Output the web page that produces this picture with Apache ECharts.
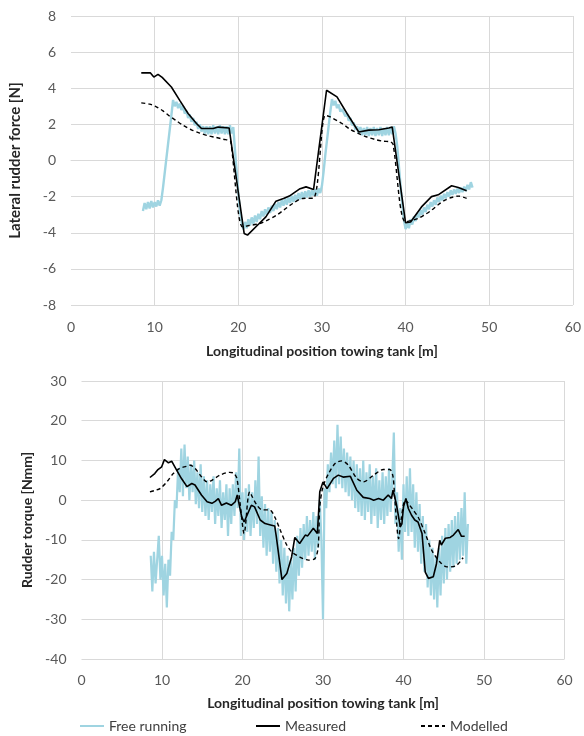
<!DOCTYPE html>
<html>
<head>
<meta charset="utf-8">
<script src="https://cdn.jsdelivr.net/npm/echarts@6/dist/echarts.min.js"></script>
<style>
  html, body { margin: 0; padding: 0; background: #ffffff; }
  #chart { width: 584px; height: 736px; }
</style>
</head>
<body>
<div id="chart"></div>
<script>
// Free running samples: one value every 0.2 m starting at 8.6 m
const sampleStart = 8.6;
const sampleStep = 0.2;

// Lateral rudder force [N], free running
const freeForce = [
  -2.80,-2.35,-2.70,-2.30,-2.65,-2.25,-2.60,-2.30,-2.55,-2.20,
  -2.50,-2.20,-1.5,-0.7,0.1,0.9,1.7,2.5,3.35,3.0,
  3.25,2.9,3.15,2.8,3.0,2.6,2.75,2.35,2.55,2.15,
  2.35,1.95,2.15,1.75,2.0,1.6,1.9,1.5,1.9,1.45,
  1.9,1.45,1.95,1.5,1.9,1.45,1.95,1.5,1.9,1.45,
  1.9,1.45,1.95,1.5,1.85,0.6,-0.6,-1.8,-2.8,-3.4,
  -3.8,-3.4,-3.75,-3.25,-3.6,-3.15,-3.5,-3.05,-3.4,-2.95,
  -3.25,-2.8,-3.1,-2.7,-3.0,-2.6,-2.9,-2.5,-2.8,-2.4,
  -2.7,-2.3,-2.6,-2.2,-2.5,-2.1,-2.45,-2.05,-2.35,-1.95,
  -2.3,-1.9,-2.2,-1.8,-2.15,-1.75,-2.1,-1.7,-2.05,-1.65,
  -2.0,-1.65,-1.95,-1.6,-1.95,-1.55,-1.8,-1.4,-0.6,0.3,
  1.1,1.9,2.7,3.4,3.05,3.3,2.9,3.1,2.7,2.85,
  2.8,2.45,2.6,2.2,2.35,1.95,2.1,1.7,1.9,1.5,
  1.85,1.4,1.8,1.4,1.85,1.35,1.8,1.4,1.85,1.35,
  1.8,1.4,1.85,1.35,1.8,1.4,1.85,1.4,1.85,1.45,
  1.9,1.5,0.8,-0.3,-1.4,-2.4,-3.3,-3.8,-3.45,-3.75,
  -3.25,-3.55,-3.1,-3.35,-2.9,-3.15,-2.75,-3.0,-2.6,-2.85,
  -2.45,-2.7,-2.3,-2.55,-2.2,-2.45,-2.05,-2.3,-1.95,-2.2,
  -1.85,-2.1,-1.75,-2.0,-1.65,-1.9,-1.6,-1.85,-1.55,-1.8,
  -1.5,-1.75,-1.45,-1.7,-1.35,-1.6,-1.2,-1.5
];

// Rudder torque [Nmm], free running
const freeTorque = [
  -14,-23,-13,-21,-15,-9,-20,-14,-24,-16,
  -27,-15,-19,-8,-10,0,-2,8,2,13,
  1,14,3,11,0,9,2,10,-1,7,
  -2,9,-3,6,-4,5,-5,4,-3,6,
  -6,3,-4,5,-7,2,-5,4,-9,3,
  -6,4,-4,7,-2,13,-9,2,-10,3,
  -8,4,-9,2,-7,5,-6,11,-9,1,
  -12,-1,-14,-2,-13,-3,-16,-5,-18,-7,
  -21,-10,-24,-12,-26,-14,-28,-15,-25,-12,
  -23,-9,-19,-7,-17,-6,-15,-4,-14,-5,
  -13,-3,-15,-4,-12,0,-10,-30,3,-2,
  9,2,12,4,15,3,19,4,16,3,
  13,2,12,1,11,0,10,-2,9,-3,
  8,-4,10,-5,7,-3,9,-6,6,-4,
  8,-7,5,-5,7,-6,6,-4,8,-3,
  5,17,-6,2,-13,-2,-15,4,-8,6,
  -9,8,-8,4,-12,2,-13,-1,-16,-4,
  -18,-6,-22,-10,-24,-12,-25,-14,-27,-12,
  -24,-9,-21,-7,-20,-6,-18,-5,-17,-4,
  -16,-3,-15,-2,-14,2,-16,-6
];

// Measured and modelled curves as [position m, value]
const measuredForce = [
  [8.4,4.85],[9.5,4.85],[9.9,4.62],[10.4,4.77],[10.9,4.6],[12.0,4.07],[13.0,3.33],
  [14.0,2.6],[15.0,2.05],[15.6,1.77],[17.0,1.77],[17.6,1.85],[18.9,1.8],
  [20.7,-4.04],[21.1,-4.13],[22.5,-3.49],[23.3,-3.12],[24.5,-2.25],[25.4,-2.1],
  [26.1,-1.97],[27.3,-1.58],[28.1,-1.46],[29.0,-1.6],[30.55,3.89],[31.8,3.52],
  [33.0,2.6],[34.4,1.58],[35.6,1.68],[36.8,1.7],[38.0,1.8],[38.4,1.86],
  [40.0,-3.45],[40.6,-3.4],[41.9,-2.57],[43.1,-2.0],[43.9,-1.9],[45.5,-1.4],
  [46.3,-1.5],[47.3,-1.68]
];

const modelledForce = [
  [8.4,3.19],[9.4,3.12],[10.2,2.97],[11.0,2.75],[11.8,2.45],[12.6,2.2],[13.4,1.95],
  [14.4,1.7],[15.4,1.52],[16.3,1.38],[17.3,1.28],[18.2,1.18],[18.9,1.12],[19.1,1.05],
  [20.5,-3.67],[21.3,-3.6],[22.5,-3.5],[23.5,-3.3],[24.5,-3.05],[25.5,-2.72],
  [26.5,-2.38],[27.7,-2.1],[29.0,-2.08],[30.4,2.5],[31.0,2.41],[32.4,2.05],
  [33.4,1.72],[34.4,1.49],[35.4,1.3],[36.4,1.16],[37.3,1.07],[38.2,1.03],[38.5,0.9],
  [40.0,-3.4],[41.5,-3.21],[42.3,-3.0],[43.1,-2.75],[43.9,-2.45],[44.7,-2.2],
  [45.5,-2.05],[46.3,-1.97],[47.3,-2.1]
];

const measuredTorque = [
  [8.5,5.7],[9.1,6.7],[9.5,7.7],[9.96,8.4],[10.3,10.2],[10.8,9.4],[11.2,9.8],
  [11.8,7.6],[12.4,5.5],[13.1,3.4],[13.7,4.2],[14.1,3.8],[14.9,1.3],[15.6,-0.4],
  [16.2,-0.8],[16.6,-0.3],[17.0,0.4],[17.4,-1.3],[18.0,-0.7],[18.6,-1.3],
  [19.1,-0.4],[19.35,1.3],[19.9,-4.2],[20.2,-5.5],[21.1,-1.3],[21.5,-1.7],
  [22.2,-5.0],[22.8,-5.9],[23.6,-6.3],[24.0,-6.5],[24.2,-9.2],[24.9,-20.0],
  [25.5,-18.5],[26.1,-14.3],[26.5,-9.4],[27.1,-10.9],[27.8,-8.8],[28.1,-9.0],
  [28.8,-7.1],[29.3,-8.4],[29.6,2.1],[30.0,4.6],[30.5,2.9],[31.3,5.5],[31.9,6.3],
  [32.5,5.8],[33.4,6.0],[34.2,2.5],[35.0,0.7],[35.8,0.4],[36.3,0.0],[36.9,0.4],
  [37.5,0.0],[38.1,1.3],[38.5,0.4],[38.7,2.5],[39.1,-0.8],[39.6,-6.7],[39.8,-6.0],
  [40.0,-1.7],[40.3,0.4],[40.6,-2.1],[41.0,-3.8],[41.4,-5.0],[41.8,-5.5],
  [42.3,-8.4],[42.7,-18.1],[43.1,-19.7],[43.7,-19.3],[44.1,-16.0],[44.5,-10.1],
  [44.7,-11.3],[45.2,-9.6],[45.8,-9.4],[46.2,-8.8],[46.8,-7.4],[47.2,-9.1],[47.6,-9.1]
];

const modelledTorque = [
  [8.5,2.1],[9.2,2.5],[9.75,2.9],[10.6,4.6],[11.4,6.7],[12.2,8.0],[13.0,8.5],
  [13.5,8.8],[14.1,8.0],[14.9,5.9],[15.6,4.6],[16.2,5.0],[17.2,6.3],[18.4,7.0],
  [18.9,6.8],[19.3,5.5],[19.7,-0.8],[20.2,-8.4],[20.7,0.8],[20.9,2.1],[21.1,1.3],
  [21.8,-1.3],[22.4,-2.4],[23.4,-2.5],[24.0,-4.2],[24.7,-7.6],[25.5,-11.3],
  [26.1,-13.0],[27.1,-14.3],[28.2,-15.1],[29.0,-14.7],[29.4,-11.8],[29.6,-1.7],
  [30.0,3.4],[30.7,6.7],[31.5,9.2],[32.3,9.9],[33.1,8.9],[34.2,5.5],[35.0,4.6],
  [36.3,6.3],[37.5,7.7],[38.3,7.7],[38.7,5.9],[38.9,0.8],[39.4,-9.7],[39.7,-5.0],
  [40.2,0.0],[40.6,-0.8],[41.2,-2.5],[41.8,-4.2],[42.7,-8.4],[43.5,-12.6],
  [44.5,-15.5],[45.4,-16.8],[45.8,-16.8],[46.6,-16.4],[47.4,-14.5]
];

// Axis ranges
const xRange = { min: 0, max: 60, interval: 10 };
const forceRange = { min: -8, max: 8, interval: 2 };
const torqueRange = { min: -40, max: 30, interval: 10 };

const xTitle = 'Longitudinal position towing tank [m]';
const forceTitle = 'Lateral rudder force [N]';
const torqueTitle = 'Rudder torque [Nmm]';

function sampled(vals) {
  return vals.map((v, i) => [+(sampleStart + i * sampleStep).toFixed(2), v]);
}

const FONT = 'Lato, "Open Sans", sans-serif';
const GRID_COLOR = '#d9d9d9';
const FREE_COLOR = '#9fd4e1';

function xAxisFor(gridIndex, labelMargin, nameGap) {
  return {
    type: 'value', gridIndex,
    min: xRange.min, max: xRange.max, interval: xRange.interval,
    name: xTitle, nameLocation: 'middle', nameGap,
    nameTextStyle: { fontFamily: FONT, fontSize: 14, fontWeight: 'bold', color: '#262626' },
    axisLine: { show: true, lineStyle: { color: GRID_COLOR } },
    axisTick: { show: false },
    axisLabel: { fontFamily: FONT, fontSize: 14, color: '#595959', margin: labelMargin },
    splitLine: { show: true, showMinLine: false, lineStyle: { color: GRID_COLOR } }
  };
}

function yAxisFor(gridIndex, range, title, nameGap, nameSize) {
  return {
    type: 'value', gridIndex,
    min: range.min, max: range.max, interval: range.interval,
    name: title, nameLocation: 'middle', nameGap, nameRotate: 90,
    nameTextStyle: { fontFamily: FONT, fontSize: nameSize, fontWeight: 'bold', color: '#262626' },
    axisLine: { show: false },
    axisTick: { show: false },
    axisLabel: { fontFamily: FONT, fontSize: 14, color: '#595959', margin: 15 },
    splitLine: { show: true, lineStyle: { color: GRID_COLOR } }
  };
}

const lineBase = { type: 'line', showSymbol: false, symbol: 'none', animation: false };

const legendText = { fontFamily: FONT, fontSize: 14, color: '#404040' };
const legendBase = {
  top: 714, itemWidth: 24, itemHeight: 12, itemGap: 4,
  textStyle: legendText,
  itemStyle: { opacity: 0 }
};

const chart = echarts.init(document.getElementById('chart'), null, { renderer: 'canvas' });
chart.setOption({
  animation: false,
  backgroundColor: '#ffffff',
  grid: [
    { left: 71, right: 9, top: 16, height: 289 },
    { left: 81.5, right: 19.5, top: 381, height: 278 }
  ],
  xAxis: [xAxisFor(0, 15, 39), xAxisFor(1, 14, 37)],
  yAxis: [yAxisFor(0, forceRange, forceTitle, 48, 15), yAxisFor(1, torqueRange, torqueTitle, 47, 14)],
  legend: [
    Object.assign({}, legendBase, { left: 74, data: ['Free running'] }),
    Object.assign({}, legendBase, { left: 250, data: ['Measured'] }),
    Object.assign({}, legendBase, { left: 415, data: ['Modelled'] })
  ],
  series: [
    Object.assign({}, lineBase, {
      name: 'Free running', xAxisIndex: 0, yAxisIndex: 0, z: 1,
      data: sampled(freeForce),
      lineStyle: { color: FREE_COLOR, width: 2.4 }, itemStyle: { color: FREE_COLOR }
    }),
    Object.assign({}, lineBase, {
      name: 'Measured', xAxisIndex: 0, yAxisIndex: 0, z: 3,
      data: measuredForce,
      lineStyle: { color: '#000000', width: 1.6 }, itemStyle: { color: '#000000' }
    }),
    Object.assign({}, lineBase, {
      name: 'Modelled', xAxisIndex: 0, yAxisIndex: 0, z: 2,
      data: modelledForce, smooth: 0.3,
      lineStyle: { color: '#000000', width: 1.4, type: [4, 3] }, itemStyle: { color: '#000000' }
    }),
    Object.assign({}, lineBase, {
      name: 'Free running', xAxisIndex: 1, yAxisIndex: 1, z: 1,
      data: sampled(freeTorque),
      lineStyle: { color: FREE_COLOR, width: 2.2 }, itemStyle: { color: FREE_COLOR }
    }),
    Object.assign({}, lineBase, {
      name: 'Measured', xAxisIndex: 1, yAxisIndex: 1, z: 3,
      data: measuredTorque,
      lineStyle: { color: '#000000', width: 1.6 }, itemStyle: { color: '#000000' }
    }),
    Object.assign({}, lineBase, {
      name: 'Modelled', xAxisIndex: 1, yAxisIndex: 1, z: 2,
      data: modelledTorque, smooth: 0.3,
      lineStyle: { color: '#000000', width: 1.4, type: [4, 3] }, itemStyle: { color: '#000000' }
    })
  ]
});
</script>
</body>
</html>
